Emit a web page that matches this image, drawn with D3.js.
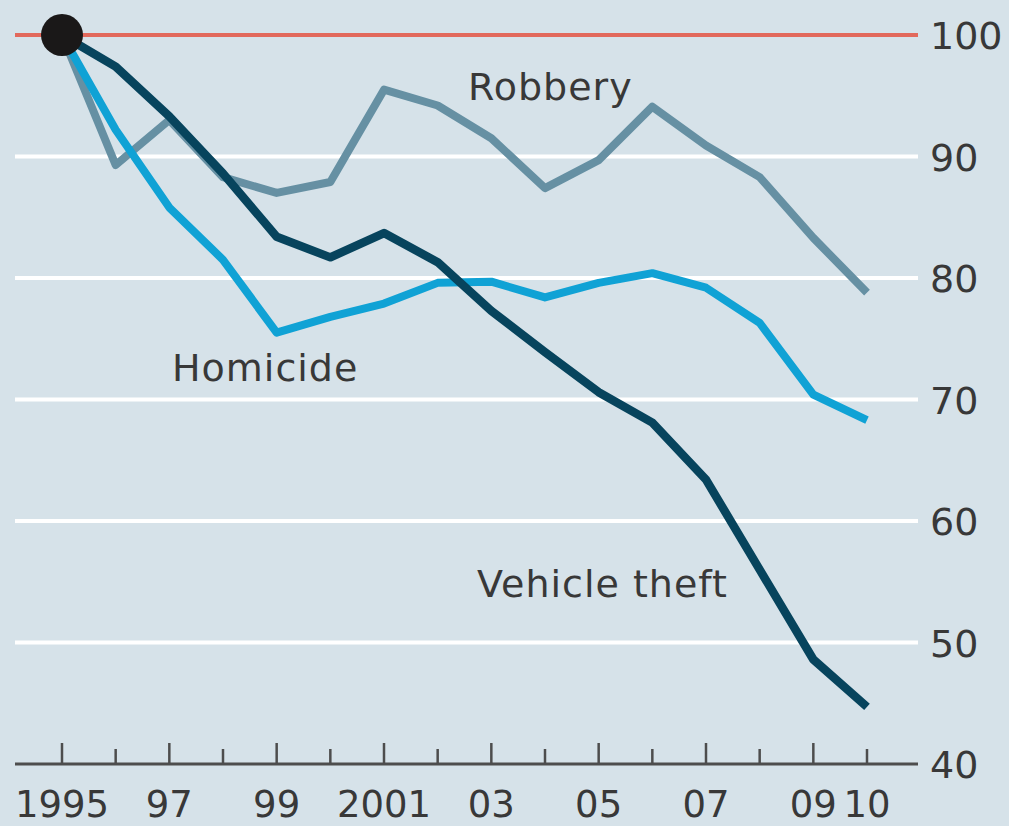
<!DOCTYPE html>
<html>
<head>
<meta charset="utf-8">
<script src="https://cdn.jsdelivr.net/npm/d3@7"></script>
<style>
body { margin:0; background:#d6e2e9; overflow:hidden; }
text { font-family:'DejaVu Sans', sans-serif; fill:#383838; }
</style>
</head>
<body>
<script>

var years = [1995,1996,1997,1998,1999,2000,2001,2002,2003,2004,2005,2006,2007,2008,2009,2010];
var robbery = [100,89.3,93.0,88.3,87.0,87.9,95.5,94.2,91.5,87.4,89.7,94.1,90.9,88.3,83.3,78.8];
var homicide = [100,92.2,85.8,81.5,75.5,76.8,77.9,79.6,79.7,78.4,79.6,80.4,79.2,76.3,70.4,68.3];
var vehicle = [100,97.4,93.3,88.6,83.4,81.7,83.7,81.3,77.3,73.9,70.6,68.1,63.4,56.0,48.6,44.7];
var yTicks = [40,50,60,70,80,90,100];
var xLabels = {1995:'1995',1997:'97',1999:'99',2001:'2001',2003:'03',2005:'05',2007:'07',2009:'09',2010:'10'};

var svg = d3.select('body').append('svg')
    .attr('width',1009)
    .attr('height',826)
    .style('display','block');

var x = d3.scaleLinear().domain([1995,2010]).range([62,867]);
var y = d3.scaleLinear().domain([40,100]).range([764,35]);

// gridlines
svg.selectAll('.grid')
    .data(yTicks.filter(function(d){ return d>40 && d<100; }))
    .enter().append('line')
    .attr('x1',15)
    .attr('x2',918)
    .attr('y1',function(d){ return y(d); })
    .attr('y2',function(d){ return y(d); })
    .attr('stroke','#ffffff')
    .attr('stroke-width',4);

svg.append('line')
    .attr('x1',15).attr('x2',918)
    .attr('y1',y(100)).attr('y2',y(100))
    .attr('stroke','#e2695c')
    .attr('stroke-width',4);

// y labels on the right
svg.selectAll('.ylab')
    .data(yTicks)
    .enter().append('text')
    .attr('x',930)
    .attr('y',function(d){ return y(d)+14; })
    .attr('font-size',38)
    .text(function(d){ return d; });

// x axis
svg.append('line')
    .attr('x1',15).attr('x2',918)
    .attr('y1',764).attr('y2',764)
    .attr('stroke','#4d4d4d')
    .attr('stroke-width',3);

svg.selectAll('.tick')
    .data(years)
    .enter().append('line')
    .attr('x1',function(d){ return x(d); })
    .attr('x2',function(d){ return x(d); })
    .attr('y1',function(d){ return d%2==1 ? 743 : 749; })
    .attr('y2',764)
    .attr('stroke','#4d4d4d')
    .attr('stroke-width',2.5);

svg.selectAll('.xlab')
    .data(years.filter(function(d){ return xLabels[d]; }))
    .enter().append('text')
    .attr('x',function(d){ return x(d); })
    .attr('y',817)
    .attr('text-anchor','middle')
    .attr('font-size',37)
    .text(function(d){ return xLabels[d]; });

var line = d3.line()
    .x(function(d,i){ return x(years[i]); })
    .y(function(d){ return y(d); });

svg.append('path').datum(robbery)
    .attr('d',line)
    .attr('fill','none')
    .attr('stroke','#6690a3')
    .attr('stroke-width',8)
    .attr('stroke-linejoin','round');

svg.append('path').datum(homicide)
    .attr('d',line)
    .attr('fill','none')
    .attr('stroke','#10a2d5')
    .attr('stroke-width',8)
    .attr('stroke-linejoin','round');

svg.append('path').datum(vehicle)
    .attr('d',line)
    .attr('fill','none')
    .attr('stroke','#07445d')
    .attr('stroke-width',8.5)
    .attr('stroke-linejoin','round');

svg.append('circle')
    .attr('cx',x(1995))
    .attr('cy',y(100))
    .attr('r',21)
    .attr('fill','#1a1818');

// series labels
svg.append('text').attr('x',468).attr('y',100).attr('font-size',38).attr('letter-spacing',1).text('Robbery');
svg.append('text').attr('x',172).attr('y',381).attr('font-size',38).attr('letter-spacing',1).text('Homicide');
svg.append('text').attr('x',477).attr('y',597).attr('font-size',38).attr('letter-spacing',1).text('Vehicle theft');

</script>
</body>
</html>
